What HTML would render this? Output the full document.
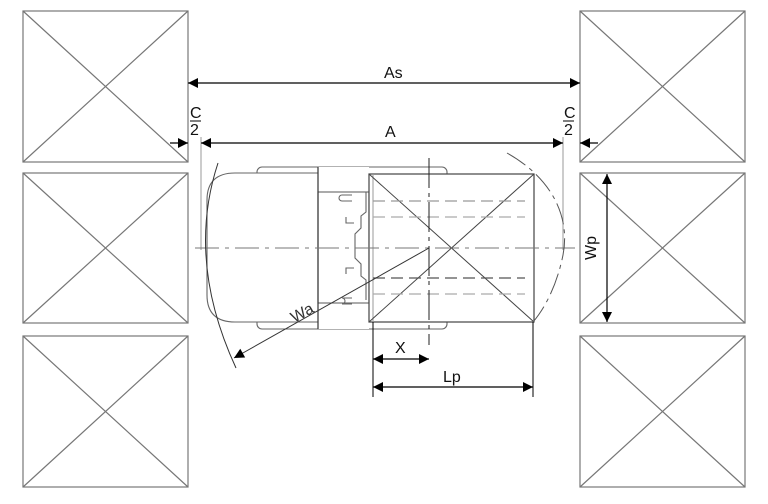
<!DOCTYPE html>
<html><head><meta charset="utf-8"><style>
html,body{margin:0;padding:0;background:#fff;}
svg{display:block;font-family:"Liberation Sans",sans-serif;}
</style></head><body>
<svg width="768" height="504" viewBox="0 0 768 504" xmlns="http://www.w3.org/2000/svg">
<defs>
<marker id="ar" viewBox="0 0 10 10" refX="10" refY="5" markerWidth="18" markerHeight="10" markerUnits="userSpaceOnUse" orient="auto-start-reverse"><path d="M0,0L10,5L0,10z" fill="#000"/></marker>
</defs>
<g fill="none" stroke="#777" stroke-width="1.2">
<rect x="23" y="11" width="165" height="151"/><path d="M23,11L188,162M188,11L23,162"/>
<rect x="23" y="173" width="165" height="150"/><path d="M23,173L188,323M188,173L23,323"/>
<rect x="23" y="336" width="165" height="151"/><path d="M23,336L188,487M188,336L23,487"/>
<rect x="580" y="11" width="165" height="151"/><path d="M580,11L745,162M745,11L580,162"/>
<rect x="580" y="173" width="165" height="150"/><path d="M580,173L745,323M745,173L580,323"/>
<rect x="580" y="336" width="165" height="151"/><path d="M580,336L745,487M745,336L580,487"/>
</g>
<g fill="none" stroke="#999" stroke-width="1">
<line x1="201" y1="137" x2="201" y2="250"/>
<line x1="563" y1="137" x2="563" y2="250"/>
</g>
<!-- truck -->
<g fill="none" stroke="#666" stroke-width="1.1">
<rect x="257" y="167" width="190" height="162" rx="5" fill="#fff"/>
<path d="M318,173H235Q207,173 207,200V295Q207,322 235,322H318" fill="#fff"/>
<rect x="318" y="167" width="51" height="162" fill="#fff" stroke="none"/>
<rect x="318" y="192" width="51" height="111" fill="#fff"/>
<path d="M352,195h-10a3,3 0 0 0 0,6h10 M352,304h-10a3,3 0 0 0 0,-6h10"/>
<path d="M346,217v6h8 M346,274v-6h8"/>
<path d="M366,192v20l-5,4v12l-6,6v24l6,6v12l5,4v20"/>
</g>
<line x1="318" y1="167" x2="318" y2="329" stroke="#333" stroke-width="1.2"/>
<!-- pallet -->
<rect x="369" y="174" width="165" height="148" fill="#fff" stroke="#444" stroke-width="1.2"/>
<line x1="373" y1="174" x2="373" y2="322" stroke="#999" stroke-width="1"/>
<path d="M369,174L534,322M534,174L369,322" stroke="#444" stroke-width="1"/>
<g stroke-dasharray="12,6" stroke-width="1.2" fill="none">
<line x1="373" y1="201" x2="525" y2="201" stroke="#999"/>
<line x1="373" y1="217" x2="525" y2="217" stroke="#aaa"/>
<line x1="373" y1="278" x2="525" y2="278" stroke="#555"/>
<line x1="373" y1="294" x2="525" y2="294" stroke="#aaa"/>
</g>
<line x1="195" y1="248" x2="575" y2="248" stroke="#777" stroke-width="1" stroke-dasharray="24,6,4,6"/>
<line x1="429" y1="158" x2="429" y2="345" stroke="#222" stroke-width="1" stroke-dasharray="30,5,4,5"/>
<path d="M218,163Q186,260 236,368" fill="none" stroke="#333" stroke-width="1"/>
<path d="M507,153C555,180 570,220 563,255C557,285 545,308 533,322" fill="none" stroke="#555" stroke-width="1" stroke-dasharray="22,5,4,5"/>
<line x1="429" y1="248" x2="234" y2="358" stroke="#333" stroke-width="1" marker-end="url(#ar)"/>
<text x="290" y="318" font-size="16" fill="#333" transform="rotate(-29 302 312)">Wa</text>
<g stroke="#000" stroke-width="1.2">
<line x1="188" y1="83" x2="580" y2="83" marker-start="url(#ar)" marker-end="url(#ar)"/>
<line x1="201" y1="143" x2="563" y2="143" marker-start="url(#ar)" marker-end="url(#ar)"/>
<line x1="170" y1="143" x2="188" y2="143" marker-end="url(#ar)"/>
<line x1="580" y1="143" x2="598" y2="143" marker-start="url(#ar)"/>
<line x1="607" y1="174" x2="607" y2="322" marker-start="url(#ar)" marker-end="url(#ar)"/>
<line x1="373" y1="359" x2="429" y2="359" marker-start="url(#ar)" marker-end="url(#ar)"/>
<line x1="373" y1="387" x2="533" y2="387" marker-start="url(#ar)" marker-end="url(#ar)"/>
</g>
<g stroke="#000" stroke-width="1">
<line x1="373" y1="322" x2="373" y2="397"/>
<line x1="533" y1="322" x2="533" y2="397"/>
</g>
<g font-size="16" fill="#111">
<text x="384" y="78">As</text>
<text x="385" y="137">A</text>
<text x="190" y="118">C</text><line x1="190" y1="121" x2="201" y2="121" stroke="#000" stroke-width="1"/><text x="190" y="135">2</text>
<text x="564" y="118">C</text><line x1="563" y1="121" x2="574" y2="121" stroke="#000" stroke-width="1"/><text x="564" y="135">2</text>
<text x="395" y="353">X</text>
<text x="443" y="382">Lp</text>
<text x="598" y="248" transform="rotate(-90 598 248)" text-anchor="middle" dy="-2">Wp</text>
</g>
</svg>
</body></html>
